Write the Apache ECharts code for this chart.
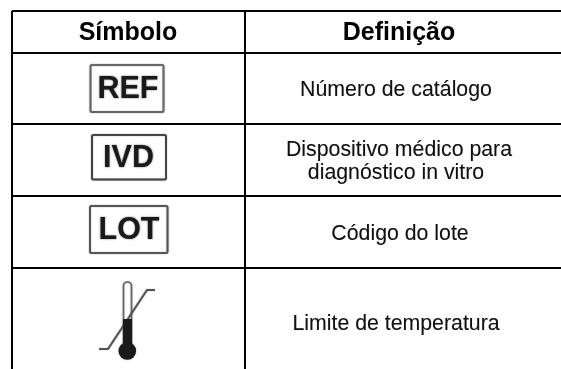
<!DOCTYPE html>
<html><head><meta charset="utf-8">
<style>html,body{margin:0;padding:0;background:#fff}#c{width:561px;height:369px}</style>
<script src="https://cdn.jsdelivr.net/npm/echarts@6/dist/echarts.min.js"></script>
</head><body><div id="c"></div>
<script>
const headers = ['Símbolo', 'Definição'];
const symbols = ['REF', 'IVD', 'LOT', ''];
const definitions = [
  ['Número de catálogo'],
  ['Dispositivo médico para', 'diagnóstico in vitro'],
  ['Código do lote'],
  ['Limite de temperatura']
];

const FONT = '"Liberation Sans", Arial, sans-serif';
const INK = '#111';
const hRules = [11, 53, 124, 196, 268];
const vRules = [[12, 369], [245, 369]];
const RIGHT = 561;
const SYM_X = 128;
const DEF_X = 397;
const boxes = [
  {x0: 90.5, y0: 65, x1: 163.5, y1: 112, tx: 128, ty: 89.5, c: '#666', w: 2},
  {x0: 92, y0: 135, x1: 166, y1: 179.5, tx: 128.5, ty: 158.5, c: '#444', w: 2},
  {x0: 90, y0: 206, x1: 167.5, y1: 253, tx: 129, ty: 231, c: '#555', w: 2}
];
const defY = [[90], [150, 173], [234], [324]];
const defDx = [[-1], [2, -1], [3], [-1]];

function renderHead(params, api) {
  const p = api.coord([api.value(0), api.value(1)]);
  return {type: 'text', style: {text: headers[params.dataIndex], x: p[0], y: p[1],
    font: 'bold 25px ' + FONT, fill: '#000', align: 'center', verticalAlign: 'middle'}};
}
function renderRule(params, api) {
  const a = api.coord([api.value(0), api.value(1)]);
  const b = api.coord([api.value(2), api.value(3)]);
  return {type: 'line', shape: {x1: a[0], y1: a[1], x2: b[0], y2: b[1]},
    style: {stroke: '#000', lineWidth: 2}};
}
function renderRow(params, api) {
  const i = params.dataIndex;
  const kids = [];
  definitions[i].forEach((t, k) => {
    const p = api.coord([DEF_X + defDx[i][k], defY[i][k]]);
    kids.push({type: 'text', style: {text: t, x: p[0], y: p[1], font: '21.3px ' + FONT,
      fill: INK, align: 'center', verticalAlign: 'middle', textShadowColor: 'rgba(0,0,0,.25)', textShadowBlur: 1}});
  });
  if (symbols[i]) {
    const b = boxes[i];
    const a0 = api.coord([b.x0, b.y0]), a1 = api.coord([b.x1, b.y1]), t = api.coord([b.tx, b.ty]);
    kids.push({type: 'rect', shape: {x: a0[0], y: a0[1], width: a1[0] - a0[0], height: a1[1] - a0[1], r: 1.5},
      style: {fill: '#fff', stroke: b.c, lineWidth: b.w, shadowColor: 'rgba(0,0,0,.35)', shadowBlur: 1.5}});
    kids.push({type: 'text', style: {text: symbols[i], x: t[0], y: t[1], font: 'bold 30.5px ' + FONT,
      fill: '#1a1a1a', align: 'center', verticalAlign: 'middle', textShadowColor: 'rgba(0,0,0,.6)', textShadowBlur: 2}});
  } else {
    const C = (x, y) => api.coord([x, y]);
    const soft = {shadowColor: 'rgba(0,0,0,.35)', shadowBlur: 1.5};
    const tube = C(123.5, 282), tubeB = C(131.5, 352);
    kids.push({type: 'rect', shape: {x: tube[0], y: tube[1], width: tubeB[0] - tube[0], height: tubeB[1] - tube[1], r: [4, 4, 0, 0]},
      style: Object.assign({fill: '#fff', stroke: '#666', lineWidth: 1.6}, soft)});
    kids.push({type: 'polyline', shape: {points: [C(99, 349), C(108, 349), C(147, 290), C(155, 290)]},
      style: Object.assign({fill: 'none', stroke: '#555', lineWidth: 2}, soft)});
    const fillTop = C(123, 319);
    kids.push({type: 'rect', shape: {x: fillTop[0], y: fillTop[1], width: 9, height: 34}, style: {fill: '#1a1a1a'}});
    const bulb = C(127.3, 351);
    kids.push({type: 'circle', shape: {cx: bulb[0], cy: bulb[1], r: 8.8}, style: Object.assign({fill: '#1a1a1a'}, soft)});
  }
  return {type: 'group', children: kids};
}

const ruleData = hRules.map(y => [12, y, RIGHT, y]).concat(vRules.map(v => [v[0], 11, v[0], v[1]]));
const chart = echarts.init(document.getElementById('c'), null, {renderer: 'canvas'});
chart.setOption({
  animation: false,
  backgroundColor: '#fff',
  grid: {left: 0, right: 0, top: 0, bottom: 0},
  xAxis: {type: 'value', min: 0, max: 561, show: false},
  yAxis: {type: 'value', min: 0, max: 369, inverse: true, show: false},
  series: [
    {type: 'custom', coordinateSystem: 'cartesian2d', silent: true, clip: false, renderItem: renderRule, data: ruleData},
    {type: 'custom', coordinateSystem: 'cartesian2d', silent: true, clip: false, renderItem: renderHead,
      data: [[SYM_X, 33], [DEF_X + 2, 33.5]]},
    {type: 'custom', coordinateSystem: 'cartesian2d', silent: true, clip: false, renderItem: renderRow,
      data: definitions.map((d, i) => [DEF_X, defY[i][0]])}
  ]
});
</script></body></html>
